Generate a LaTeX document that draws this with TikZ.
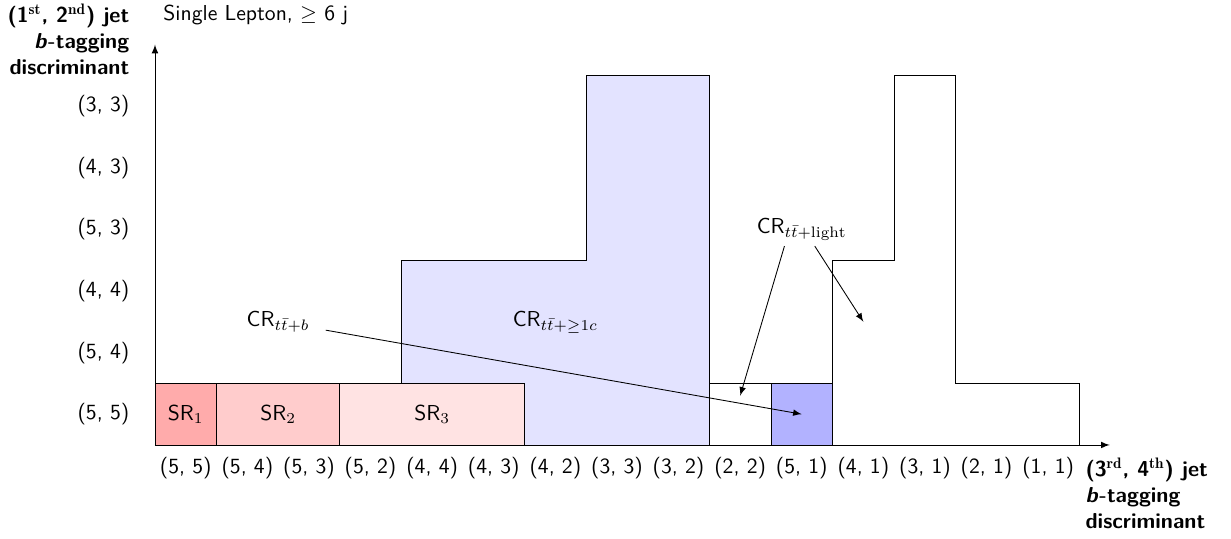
\documentclass[tikz,border=0pt]{standalone}
\usepackage{amsmath}
\usepackage{amssymb}
\usepackage{fontspec}
\usepackage{tikz}
\usepackage{xcolor}

\begin{document}
\begin{tikzpicture}[font=\sffamily,
        lbl/.style={inner sep=0pt},
        cr/.style={-latex,shorten <=4pt}]
        \useasboundingbox (-2.516,-1.526) rectangle (17.468,7.224);
        \draw[fill=blue!11] (4,0) -- (4,3) -- (7,3) -- (7,6) -- (9,6) -- (9,0) -- cycle;
        \draw (11,0) -- (11,3) -- (12,3) -- (12,6) -- (13,6) -- (13,1) -- (15,1) -- (15,0);
        \draw[fill=red!33] (0,0) rectangle (1,1);
        \draw[fill=red!20] (1,0) rectangle (3,1);
        \draw[fill=red!11] (3,0) rectangle (6,1);
        \draw (9,0) rectangle (10,1);
        \draw[fill=blue!30] (10,0) rectangle (11,1);
        \draw[-latex] (0,0) -- (15.5,0);
        \draw[-latex] (0,0) -- (0,6.5);
        \foreach \lab [count=\i from 0] in {(5, 5),(5, 4),(5, 3),(5, 2),(4, 4),(4, 3),(4, 2),(3, 3),(3, 2),(2, 2),(5, 1),(4, 1),(3, 1),(2, 1),(1, 1)}
        \node[lbl,anchor=north] (x\i) at (\i+0.5,-0.2) {\lab};
        \foreach \lab [count=\i from 0] in {(5, 5),(5, 4),(4, 4),(5, 3),(4, 3),(3, 3)}
        \node[lbl,anchor=east] (y\i) at (-0.41,\i+0.5) {\lab};
        \node[lbl,anchor=north west,align=left,font=\sffamily\bfseries] (xtitle) at (15.1,-0.2)
        {(3$^{\mathbf{rd}}$, 4$^{\mathbf{th}}$) jet\\ \textit{b}-tagging\\ discriminant};
        \node[lbl,anchor=north east,align=right,font=\sffamily\bfseries] (ytitle) at (-0.41,7.17)
        {(1$^{\mathbf{st}}$, 2$^{\mathbf{nd}}$) jet\\ \textit{b}-tagging\\ discriminant};
        \node[lbl,anchor=west] (channel) at (0.13,6.98) {Single Lepton, $\geq$ 6 j};
        \node (sr1) at (0.5,0.5) {SR$_1$};
        \node (sr2) at (2,0.5) {SR$_2$};
        \node (sr3) at (4.5,0.5) {SR$_3$};
        \node (crc) at (6.5,2) {CR$_{t\bar{t}+\geq 1c}$};
        \node (crb) at (2,2) {CR$_{t\bar{t}+b}$};
        \node (crl) at (10.5,3.5) {CR$_{t\bar{t}+\mathrm{light}}$};
        \coordinate (bin51) at (10.5,0.5);
        \coordinate (bin22) at (9.5,0.8);
        \coordinate (bin41) at (11.5,2);
        \draw[cr] (crb) -- (bin51);
        \draw[-latex] ([xshift=-8pt,yshift=1pt]crl.south) -- (bin22);
        \draw[-latex] ([xshift=6pt,yshift=1pt]crl.south) -- (bin41);
        \end{tikzpicture}
\end{document}
